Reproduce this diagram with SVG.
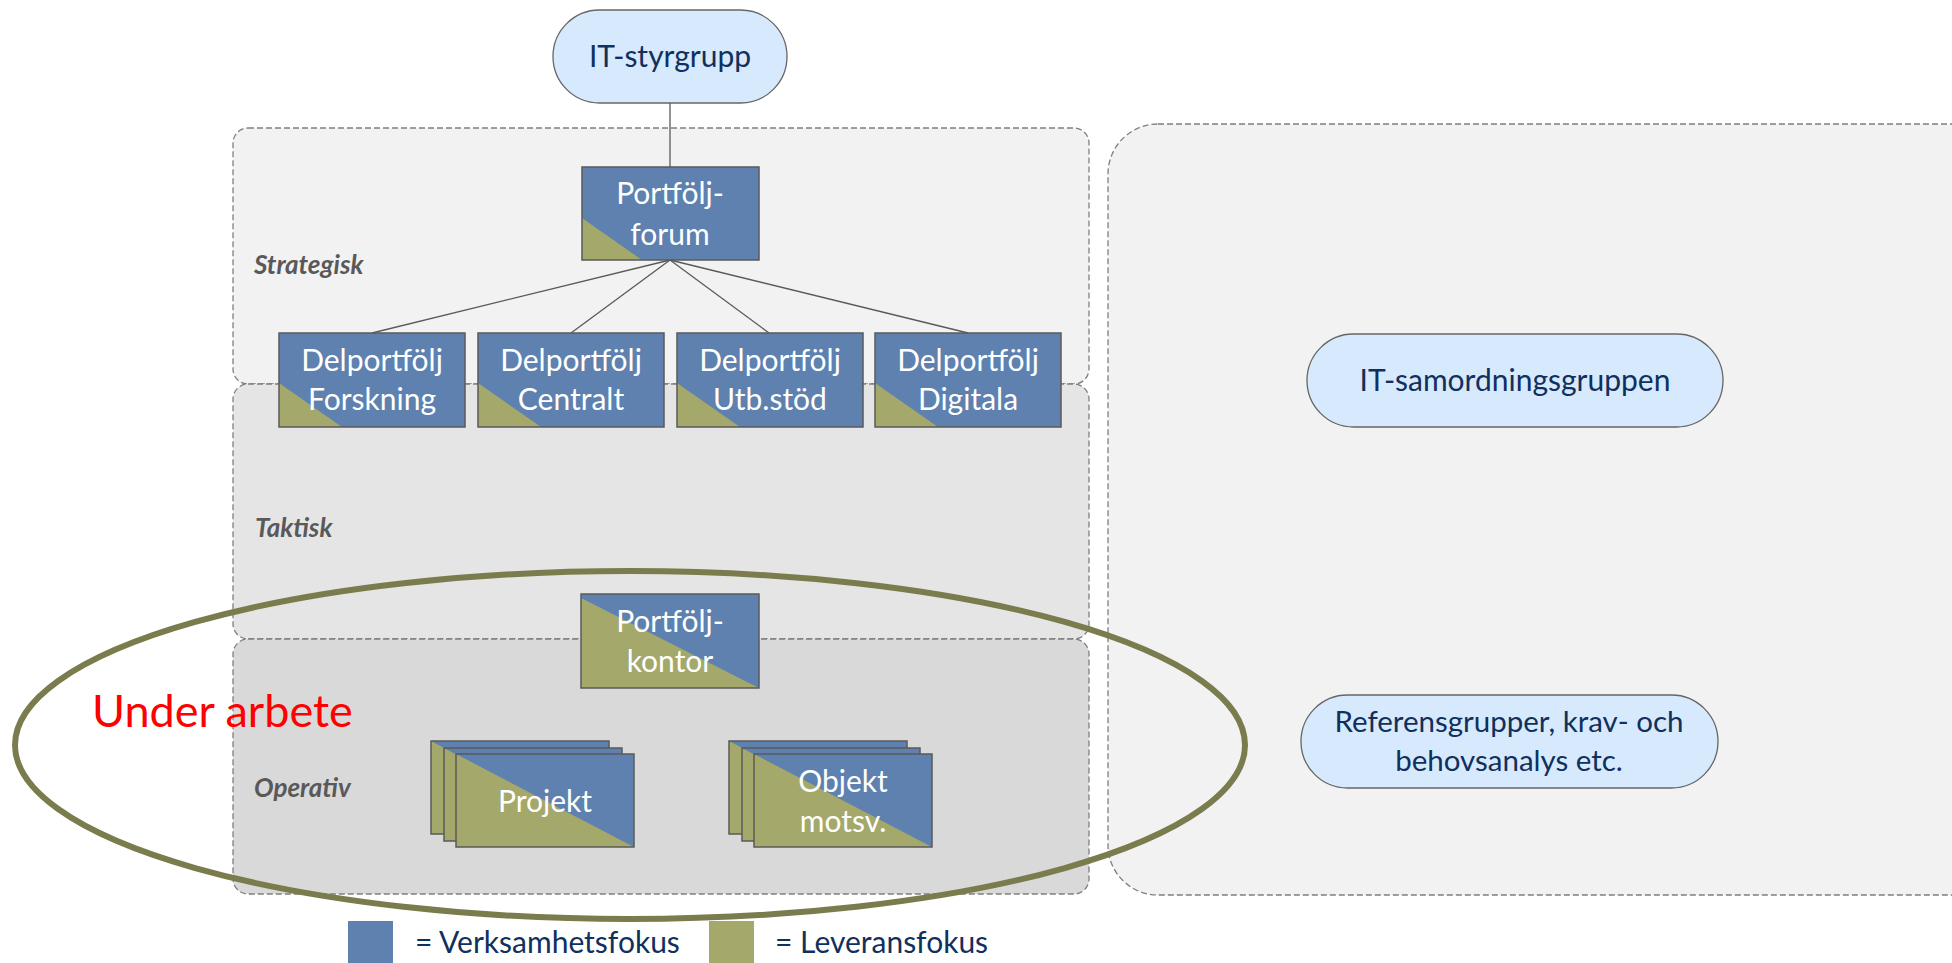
<svg xmlns="http://www.w3.org/2000/svg" width="1952" height="963" viewBox="0 0 1952 963">
<style>
.panel{stroke:#7f7f7f;stroke-width:1.3;stroke-dasharray:6 3}
.blue{fill:#5e81b0}
.olive{fill:#a4a86b}
.frame{fill:none;stroke:#5a5a5a;stroke-width:1.5}
.pill{fill:#d7e9fc;stroke:#666;stroke-width:1.3}
.wt{font-family:Lato,"Liberation Sans",sans-serif;font-size:30px;fill:#fff;text-anchor:middle}
.nt{font-family:Lato,"Liberation Sans",sans-serif;font-size:30px;fill:#10305e;text-anchor:middle}
.lvl{font-family:Lato,"Liberation Sans",sans-serif;font-size:26px;font-weight:bold;font-style:italic;fill:#595959}
.lg{font-family:Lato,"Liberation Sans",sans-serif;font-size:30px;fill:#10305e}
.conn{stroke:#595959;stroke-width:1.3;fill:none}
</style>
<defs>
<g id="stackcard">
<rect width="178" height="93" class="blue"/>
<polygon points="0,0 178,93 0,93" class="olive"/>
<rect width="178" height="93" class="frame"/>
</g>
</defs>
<rect width="1952" height="963" fill="#fff"/>

<g id="panels">
<rect id="panel-strategisk" x="233" y="128" width="856" height="256" rx="15" fill="#f2f2f2" class="panel"/>
<rect id="panel-taktisk" x="233" y="384" width="856" height="255" rx="15" fill="#e5e5e5" class="panel"/>
<rect id="panel-operativ" x="233" y="639" width="856" height="255" rx="15" fill="#d9d9d9" class="panel"/>
<rect id="panel-right" x="1108" y="124" width="900" height="771" rx="50" fill="#f2f2f2" class="panel"/>
<text class="lvl" x="254" y="274">Strategisk</text>
<text class="lvl" x="255" y="537">Taktisk</text>
<text class="lvl" x="254" y="797">Operativ</text>
</g>

<g id="connectors">
<line class="conn" x1="670" y1="103" x2="670" y2="167"/>
<line class="conn" x1="670" y1="260" x2="372" y2="333"/>
<line class="conn" x1="670" y1="260" x2="571" y2="333"/>
<line class="conn" x1="670" y1="260" x2="769" y2="333"/>
<line class="conn" x1="670" y1="260" x2="968" y2="333"/>
</g>

<g id="it-styrgrupp">
<rect x="553" y="10" width="234" height="93" rx="46.5" class="pill"/>
<text class="nt" x="670" y="67">IT-styrgrupp</text>
</g>

<g id="portfoljforum">
<rect x="582" y="167" width="177" height="93" class="blue"/>
<polygon points="582,218 642,260 582,260" class="olive"/>
<rect x="582" y="167" width="177" height="93" class="frame"/>
<text class="wt" x="670" y="204">Portfölj-</text>
<text class="wt" x="670" y="245">forum</text>
</g>

<g id="delportfolj-forskning">
<rect x="279" y="333" width="186" height="94" class="blue"/>
<polygon points="279,383 342,427 279,427" class="olive"/>
<rect x="279" y="333" width="186" height="94" class="frame"/>
<text class="wt" x="372" y="371">Delportfölj</text>
<text class="wt" x="372" y="410">Forskning</text>
</g>
<g id="delportfolj-centralt">
<rect x="478" y="333" width="186" height="94" class="blue"/>
<polygon points="478,383 541,427 478,427" class="olive"/>
<rect x="478" y="333" width="186" height="94" class="frame"/>
<text class="wt" x="571" y="371">Delportfölj</text>
<text class="wt" x="571" y="410">Centralt</text>
</g>
<g id="delportfolj-utbstod">
<rect x="677" y="333" width="186" height="94" class="blue"/>
<polygon points="677,383 740,427 677,427" class="olive"/>
<rect x="677" y="333" width="186" height="94" class="frame"/>
<text class="wt" x="770" y="371">Delportfölj</text>
<text class="wt" x="770" y="410">Utb.stöd</text>
</g>
<g id="delportfolj-digitala">
<rect x="875" y="333" width="186" height="94" class="blue"/>
<polygon points="875,383 938,427 875,427" class="olive"/>
<rect x="875" y="333" width="186" height="94" class="frame"/>
<text class="wt" x="968" y="371">Delportfölj</text>
<text class="wt" x="968" y="410">Digitala</text>
</g>

<g id="portfoljkontor">
<rect x="581" y="594" width="178" height="94" class="blue"/>
<polygon points="581,598 759,688 581,688" class="olive"/>
<rect x="581" y="594" width="178" height="94" class="frame"/>
<text class="wt" x="670" y="632">Portfölj-</text>
<text class="wt" x="670" y="672">kontor</text>
</g>

<g id="projekt">
<use href="#stackcard" x="431" y="741"/>
<use href="#stackcard" x="444" y="748"/>
<use href="#stackcard" x="456" y="754"/>
<text class="wt" x="545" y="812">Projekt</text>
</g>

<g id="objekt">
<use href="#stackcard" x="729" y="741"/>
<use href="#stackcard" x="742" y="748"/>
<use href="#stackcard" x="754" y="754"/>
<text class="wt" x="843" y="792">Objekt</text>
<text class="wt" x="843" y="832">motsv.</text>
</g>

<g id="it-samordningsgruppen">
<rect x="1307" y="334" width="416" height="93" rx="46.5" class="pill"/>
<text class="nt" x="1515" y="391">IT-samordningsgruppen</text>
</g>

<g id="referensgrupper">
<rect x="1301" y="695" width="417" height="93" rx="46.5" class="pill"/>
<text class="nt" x="1509" y="732" style="font-size:29.5px">Referensgrupper, krav- och</text>
<text class="nt" x="1509" y="771" style="font-size:29.5px">behovsanalys etc.</text>
</g>

<g id="under-arbete">
<ellipse cx="630" cy="745" rx="615" ry="174" fill="none" stroke="#7a7c4d" stroke-width="6"/>
<text x="92" y="727" font-family="Lato,'Liberation Sans',sans-serif" font-size="45" fill="#ff0000">Under arbete</text>
</g>

<g id="legend">
<rect x="348" y="921" width="45" height="45" class="blue"/>
<text class="lg" x="415" y="953">= Verksamhetsfokus</text>
<rect x="709" y="921" width="45" height="45" class="olive"/>
<text class="lg" x="775" y="953">= Leveransfokus</text>
</g>
</svg>
